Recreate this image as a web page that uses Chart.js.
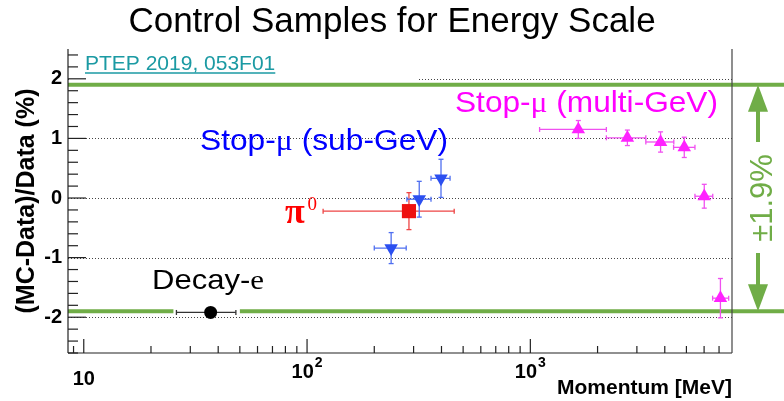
<!DOCTYPE html>
<html>
<head>
<meta charset="utf-8">
<script src="https://cdn.jsdelivr.net/npm/chart.js@4/dist/chart.umd.min.js"></script>
<style>
  html, body { margin: 0; padding: 0; background: #fff; }
  #c { display: block; }
</style>
</head>
<body>
<canvas id="c" width="784" height="401"></canvas>
<script>
// Momentum [MeV] and (MC-Data)/Data [%] for each energy-scale control sample
const decayEMomentum = [37];
const decayEMomLow   = [26];
const decayEMomHigh  = [48];
const decayEShift    = [-1.92];
const decayEErr      = [0.04];

const pi0Momentum = [286];
const pi0MomLow   = [118];
const pi0MomHigh  = [456];
const pi0Shift    = [-0.22];
const pi0Err      = [0.31];

const subGeVMomentum = [238, 318, 398];
const subGeVMomLow   = [200, 280, 359];
const subGeVMomHigh  = [278, 359, 437];
const subGeVShift    = [-0.84, -0.02, 0.33];
const subGeVErr      = [0.26, 0.30, 0.32];

const multiGeVMomentum = [1640, 2720, 3830, 4890, 6010, 7100];
const multiGeVMomLow   = [1100, 2190, 3290, 4380, 5460, 6550];
const multiGeVMomHigh  = [2190, 3290, 4390, 5460, 6560, 7730];
const multiGeVShift    = [1.15, 1.01, 0.94, 0.85, 0.03, -1.68];
const multiGeVErr      = [0.15, 0.13, 0.17, 0.17, 0.20, 0.33];

// systematic band on the energy scale, in percent
const scaleBand = 1.9;

const yTickValues = [-2, -1, 0, 1, 2];
const xTickValues = [10, 100, 1000];
const xTickBases = ['10', '10', '10'];
const xTickExponents = ['', '2', '3'];

const chartTitle = 'Control Samples for Energy Scale';

const SANS  = "'Liberation Sans', Arial, Helvetica, sans-serif";
const SERIF = "'Liberation Serif', 'Times New Roman', serif";
const GREEN = '#70ad47';

function points(mom, lo, hi, shift, err) {
  return mom.map((m, i) => ({ x: m, y: shift[i], xMin: lo[i], xMax: hi[i], yErr: err[i] }));
}

function seg(ctx, x0, y0, x1, y1) {
  ctx.beginPath(); ctx.moveTo(x0, y0); ctx.lineTo(x1, y1); ctx.stroke();
}

// draw a run of differently-styled text pieces, stretched to a given width
function fitText(ctx, parts, x, baseline, width, color) {
  let total = 0;
  parts.forEach(p => { ctx.font = p.font; total += ctx.measureText(p.t).width; });
  const s = width / total;
  ctx.save();
  ctx.translate(x, baseline);
  ctx.scale(s, 1);
  ctx.fillStyle = color;
  ctx.textAlign = 'left';
  ctx.textBaseline = 'alphabetic';
  let cx = 0;
  parts.forEach(p => { ctx.font = p.font; ctx.fillText(p.t, cx, 0); cx += ctx.measureText(p.t).width; });
  ctx.restore();
}

const decor = {
  id: 'decor',
  beforeDatasetsDraw(chart) {
    const { ctx, chartArea: a, scales: { x, y } } = chart;
    const W = chart.width;
    ctx.save();

    // dotted horizontal grid
    ctx.strokeStyle = '#444';
    ctx.lineWidth = 1;
    ctx.setLineDash([1, 2]);
    yTickValues.forEach(v => {
      const py = Math.round(y.getPixelForValue(v)) + 0.5;
      seg(ctx, a.left, py, a.right, py);
    });
    ctx.setLineDash([]);

    // blank box behind the reference label
    ctx.fillStyle = '#fff';
    const py2 = y.getPixelForValue(2);
    ctx.fillRect(a.left + 1, py2 - 4, 349, 8);

    // ±1.9 % band edges
    ctx.strokeStyle = GREEN;
    ctx.lineWidth = 4;
    const yTop = y.getPixelForValue(scaleBand);
    const yBot = y.getPixelForValue(-scaleBand);
    seg(ctx, a.left, yTop, W, yTop);
    const gapL = x.getPixelForValue(decayEMomLow[0]) - 3;
    const gapR = x.getPixelForValue(decayEMomHigh[0]) + 4;
    seg(ctx, a.left, yBot, gapL, yBot);
    seg(ctx, gapR, yBot, W, yBot);

    // error bars
    chart.data.datasets.forEach(ds => {
      ctx.strokeStyle = ds.errColor;
      ctx.lineWidth = 1.3;
      ds.data.forEach(p => {
        const px = x.getPixelForValue(p.x), py = y.getPixelForValue(p.y);
        const x0 = x.getPixelForValue(p.xMin), x1 = x.getPixelForValue(p.xMax);
        const y0 = y.getPixelForValue(p.y - p.yErr), y1 = y.getPixelForValue(p.y + p.yErr);
        seg(ctx, x0, py, x1, py);
        seg(ctx, px, y0, px, y1);
        seg(ctx, x0, py - 2.5, x0, py + 2.5);
        seg(ctx, x1, py - 2.5, x1, py + 2.5);
        seg(ctx, px - 2.5, y0, px + 2.5, y0);
        seg(ctx, px - 2.5, y1, px + 2.5, y1);
      });
    });
    ctx.restore();
  },
  afterDraw(chart) {
    const { ctx, chartArea: a, scales: { x, y } } = chart;
    ctx.save();

    // main title, centred on the page
    ctx.fillStyle = '#000';
    ctx.font = '35px ' + SANS;
    ctx.textAlign = 'center';
    ctx.textBaseline = 'alphabetic';
    ctx.fillText(chartTitle, chart.width / 2, 32);

    // frame
    ctx.strokeStyle = '#222';
    ctx.lineWidth = 1.2;
    seg(ctx, a.left, a.top, a.left, a.bottom);
    seg(ctx, a.left, a.bottom, a.right, a.bottom);
    ctx.strokeStyle = '#444';
    seg(ctx, a.right, a.top, a.right, a.bottom);

    // y tick marks (inside), major every 1, minor every 0.2
    ctx.strokeStyle = '#222';
    ctx.lineWidth = 1.2;
    for (let k = -13; k <= 12; k++) {
      const py = y.getPixelForValue(k / 5);
      const len = (k % 5 === 0) ? 18 : 10;
      seg(ctx, a.left, py, a.left + len, py);
    }
    // x tick marks (inside), log decades
    [1, 10, 100, 1000].forEach(d => {
      for (let m = 1; m <= 9; m++) {
        const v = m * d;
        if (v < x.min || v >= x.max) continue;
        const px = x.getPixelForValue(v);
        seg(ctx, px, a.bottom, px, a.bottom - (m === 1 ? 14 : 7));
      }
    });

    // x tick labels with raised exponents
    ctx.fillStyle = '#000';
    ctx.textAlign = 'left';
    xTickValues.forEach((v, i) => {
      const px = x.getPixelForValue(v);
      const base = xTickBases[i], exp = xTickExponents[i];
      ctx.font = 'bold 20px ' + SANS;
      const wb = ctx.measureText(base).width;
      ctx.font = 'bold 14px ' + SANS;
      const we = exp ? ctx.measureText(exp).width + 1 : 0;
      const x0 = px - (wb + we) / 2;
      const baseY = exp ? 378 : 385;
      ctx.font = 'bold 20px ' + SANS;
      ctx.fillText(base, x0, baseY);
      if (exp) {
        ctx.font = 'bold 14px ' + SANS;
        ctx.fillText(exp, x0 + wb + 1, baseY - 11);
      }
    });

    // reference label
    ctx.fillStyle = '#1b9aa3';
    ctx.font = '21px ' + SANS;
    ctx.textBaseline = 'alphabetic';
    ctx.textAlign = 'left';
    const ref = 'PTEP 2019, 053F01';
    ctx.fillText(ref, 85, 70);
    ctx.strokeStyle = '#1b9aa3';
    ctx.lineWidth = 1.3;
    seg(ctx, 85, 73, 85 + ctx.measureText(ref).width, 73);

    // sample labels
    fitText(ctx, [
      { t: 'Stop-', font: '30px ' + SANS },
      { t: '\u03BC', font: '30px ' + SERIF },
      { t: ' (sub-GeV)', font: '30px ' + SANS }
    ], 200, 150, 248, '#0000ff');
    fitText(ctx, [
      { t: 'Stop-', font: '30px ' + SANS },
      { t: '\u03BC', font: '30px ' + SERIF },
      { t: ' (multi-GeV)', font: '30px ' + SANS }
    ], 455, 112, 263, '#ff00ff');
    fitText(ctx, [
      { t: 'Decay-', font: '28px ' + SANS },
      { t: 'e', font: '28px ' + SERIF }
    ], 152, 289, 112, '#000');

    ctx.fillStyle = '#ff0000';
    ctx.font = 'bold 36px ' + SERIF;
    ctx.fillText('\u03C0', 285, 223);
    ctx.font = '19px ' + SERIF;
    ctx.fillText('0', 307.5, 210);

    // double arrow marking the band
    const ax = 758;
    const yTop = y.getPixelForValue(scaleBand);
    const yBot = y.getPixelForValue(-scaleBand);
    const mid = (yTop + yBot) / 2;
    ctx.strokeStyle = GREEN;
    ctx.fillStyle = GREEN;
    ctx.lineWidth = 4;
    seg(ctx, ax, yTop + 20, ax, mid - 56);
    seg(ctx, ax, mid + 55, ax, yBot - 20);
    ctx.beginPath();
    ctx.moveTo(ax, yTop); ctx.lineTo(ax - 10, yTop + 27); ctx.lineTo(ax + 10, yTop + 27); ctx.closePath(); ctx.fill();
    ctx.beginPath();
    ctx.moveTo(ax, yBot); ctx.lineTo(ax - 10, yBot - 27); ctx.lineTo(ax + 10, yBot - 27); ctx.closePath(); ctx.fill();

    ctx.save();
    ctx.translate(771.5, mid);
    ctx.rotate(-Math.PI / 2);
    ctx.font = '31px ' + SANS;
    ctx.textAlign = 'center';
    ctx.textBaseline = 'alphabetic';
    ctx.fillText('\u00B1' + scaleBand.toFixed(1) + '%', 0, 0);
    ctx.restore();

    ctx.restore();
  }
};

new Chart(document.getElementById('c'), {
  type: 'scatter',
  data: {
    datasets: [
      {
        label: 'Decay-e',
        data: points(decayEMomentum, decayEMomLow, decayEMomHigh, decayEShift, decayEErr),
        pointStyle: 'circle', pointRadius: 6.5,
        backgroundColor: '#000', borderColor: '#000', borderWidth: 0,
        errColor: '#333'
      },
      {
        label: '\u03C0\u2070',
        data: points(pi0Momentum, pi0MomLow, pi0MomHigh, pi0Shift, pi0Err),
        pointStyle: 'rect', pointRadius: 10,
        backgroundColor: '#ee1111', borderColor: '#ee1111', borderWidth: 0,
        errColor: '#ee4444'
      },
      {
        label: 'Stop-\u03BC (sub-GeV)',
        data: points(subGeVMomentum, subGeVMomLow, subGeVMomHigh, subGeVShift, subGeVErr),
        pointStyle: 'triangle', rotation: 180, pointRadius: 7.8,
        backgroundColor: '#2b4ff0', borderColor: '#2b4ff0', borderWidth: 0,
        errColor: '#4f6ff0'
      },
      {
        label: 'Stop-\u03BC (multi-GeV)',
        data: points(multiGeVMomentum, multiGeVMomLow, multiGeVMomHigh, multiGeVShift, multiGeVErr),
        pointStyle: 'triangle', pointRadius: 7.8,
        backgroundColor: '#ff22ff', borderColor: '#ff22ff', borderWidth: 0,
        errColor: '#f050f0'
      }
    ]
  },
  options: {
    responsive: false,
    animation: false,
    devicePixelRatio: 1,
    layout: { padding: { left: 0, right: 52, top: 49, bottom: 0 } },
    plugins: {
      legend: { display: false },
      tooltip: { enabled: false },
      title: { display: false }
    },
    scales: {
      x: {
        type: 'logarithmic',
        min: 8.5,
        max: 8000,
        grid: { display: false, drawTicks: false },
        border: { display: false },
        afterBuildTicks: s => { s.ticks = xTickValues.map(v => ({ value: v })); },
        ticks: { display: false },
        title: {
          display: true, text: 'Momentum [MeV]', align: 'end',
          color: '#000',
          font: { family: SANS, size: 21, weight: 'bold' },
          padding: { top: 0, bottom: 0 }
        },
        afterFit: s => { s.height = 48; }
      },
      y: {
        min: -2.6,
        max: 2.5,
        grid: { display: false, drawTicks: false },
        border: { display: false },
        afterBuildTicks: s => { s.ticks = yTickValues.map(v => ({ value: v })); },
        ticks: {
          padding: 6, color: '#000',
          font: { family: SANS, size: 20, weight: 'bold' },
          callback: v => String(v)
        },
        title: {
          display: true, text: '(MC-Data)/Data (%)',
          color: '#000',
          font: { family: SANS, size: 25, weight: 'bold' },
          padding: { top: 12, bottom: 0 }
        },
        afterFit: s => { s.width = 68; }
      }
    }
  },
  plugins: [decor]
});
</script>
</body>
</html>
